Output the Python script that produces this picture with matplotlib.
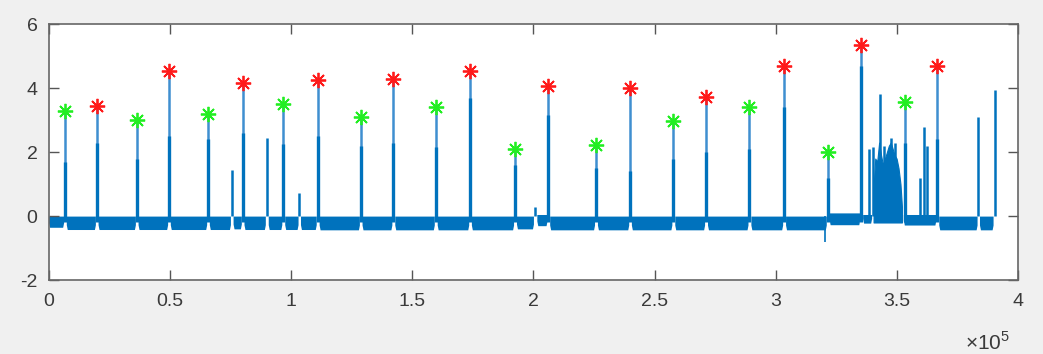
import numpy as np
import matplotlib.pyplot as plt
from matplotlib.ticker import FuncFormatter

plt.rcParams['font.family'] = ['Liberation Sans', 'DejaVu Sans']
plt.rcParams['mathtext.fontset'] = 'custom'
plt.rcParams['mathtext.rm'] = 'Liberation Sans'
plt.rcParams['axes.unicode_minus'] = False

# detected peaks (sample index, amplitude)
red_x = [19840, 49670, 80070, 111010, 142200, 173850, 206150, 239850, 271200, 303400, 335200, 366600]
red_y = [3.45, 4.55, 4.16, 4.26, 4.28, 4.55, 4.07, 4.00, 3.74, 4.71, 5.35, 4.70]
green_x = [6770, 36350, 65760, 96820, 128760, 159700, 192400, 225800, 257700, 289100, 321400, 353300]
green_y = [3.29, 3.01, 3.20, 3.51, 3.11, 3.40, 2.09, 2.23, 2.96, 3.40, 2.00, 3.58]
# height of the dense lower part of each marked spike
red_mid = [2.3, 2.5, 2.6, 2.5, 2.3, 3.7, 3.15, 1.4, 2.0, 3.4, 4.7, 2.4]
green_mid = [1.7, 1.8, 2.4, 2.25, 2.2, 2.17, 1.6, 1.5, 1.8, 2.1, 1.2, 2.3]

# other spikes in the trace that were not marked
other_x = [75540, 90000, 103400, 200700, 338500, 340000, 342800, 344500, 347400, 349000,
           359500, 361200, 362500, 383500, 390500]
other_y = [1.43, 2.45, 0.72, 0.30, 2.10, 2.17, 3.81, 2.20, 2.45, 2.30,
           1.20, 2.80, 2.20, 3.09, 3.95]

# baseline band segments (start, end, low, high)
band_start = [0, 7300, 20400, 36900, 50200, 66300, 76100, 80600, 90600, 97400, 103900,
              111600, 129300, 142800, 160300, 174400, 193000, 201400, 206700, 226400,
              240400, 258300, 271800, 289700, 304000, 322000, 335800, 352600, 367200, 384000]
band_end = [6200, 19300, 35800, 49100, 65200, 75000, 79500, 89400, 96200, 102900, 110400,
            128200, 141600, 159100, 173300, 191800, 200000, 205600, 225200, 239300,
            257100, 270600, 288500, 302800, 320800, 334600, 339500, 366000, 383000, 389600]
band_low = [-0.35, -0.42, -0.42, -0.42, -0.42, -0.42, -0.40, -0.42, -0.42, -0.42, -0.42,
            -0.43, -0.43, -0.43, -0.43, -0.43, -0.40, -0.30, -0.43, -0.43,
            -0.43, -0.43, -0.43, -0.43, -0.43, -0.27, -0.22, -0.28, -0.43, -0.43]
band_high = [0.0, 0.0, 0.0, 0.0, 0.0, 0.0, 0.0, 0.0, 0.0, 0.0, 0.0,
             0.0, 0.0, 0.0, 0.0, 0.0, 0.0, 0.05, 0.0, 0.0,
             0.0, 0.0, 0.0, 0.0, 0.0, 0.10, 0.05, 0.05, 0.0, 0.0]

# dense burst around 3.4e5
burst_x = [340300, 341000, 341800, 342600, 343400, 344200, 345000, 345800, 346600,
           347400, 348200, 349000, 349800, 350600, 351400, 352000]
burst_top = [0.9, 1.8, 1.7, 2.3, 1.9, 1.6, 1.8, 2.0, 2.2, 2.3, 2.1, 1.9, 1.8, 1.5, 1.0, 0.3]

# single downward dip
dip_x = 320300
dip_y = -0.8

blue = '#0072BD'
light = '#3f8fd0'

fig = plt.figure(figsize=(10.43, 3.54), dpi=100, facecolor='#f0f0f0')
ax = fig.add_axes([0.0466, 0.209, 0.9297, 0.7223])

# baseline band, with slightly rounded ends
for s, e, lo, hi in zip(band_start, band_end, band_low, band_high):
    w = min(400, (e - s) / 4)
    ax.fill_between([s, s + w, e - w, e], [lo + 0.15, lo, lo, lo + 0.15],
                    [hi, hi, hi, hi], color=blue, lw=0)

ax.fill_between(burst_x, -0.2, burst_top, color=blue, lw=0.8, ec=blue)
ax.vlines(dip_x, dip_y, 0, color=blue, lw=1.2)

spike_x = red_x + green_x
spike_y = red_y + green_y
spike_mid = red_mid + green_mid
ax.vlines(spike_x, 0, spike_y, color=light, lw=1.8)
ax.vlines(spike_x, -0.2, spike_mid, color=blue, lw=2.4)
ax.vlines(other_x, 0, other_y, color=blue, lw=1.8)

star = (8, 2, 0)
ax.plot(red_x, red_y, ls='none', marker=star, ms=11, mec='#ff1a1a', mew=1.3)
ax.plot(green_x, green_y, ls='none', marker=star, ms=11, mec='#22ee22', mew=1.3)

ax.set_xlim(0, 400000)
ax.set_ylim(-2, 6)
ax.set_xticks(np.arange(0, 400001, 50000))
ax.set_yticks([-2, 0, 2, 4, 6])
ax.xaxis.set_major_formatter(FuncFormatter(lambda v, p: f'{v / 1e5:g}'))

for sp in ax.spines.values():
    sp.set_color('#666666')
    sp.set_linewidth(1.2)
ax.tick_params(direction='in', length=7, width=1, color='#555555',
               top=True, right=True, labelsize=14, labelcolor='#3a3a3a')
ax.tick_params(axis='x', pad=9)
ax.tick_params(axis='y', pad=8)

fig.text(0.925, 0.012, r'$\times10^{5}$', fontsize=15, color='#3a3a3a', va='baseline')

fig.savefig('out.png', dpi=100, facecolor=fig.get_facecolor())
